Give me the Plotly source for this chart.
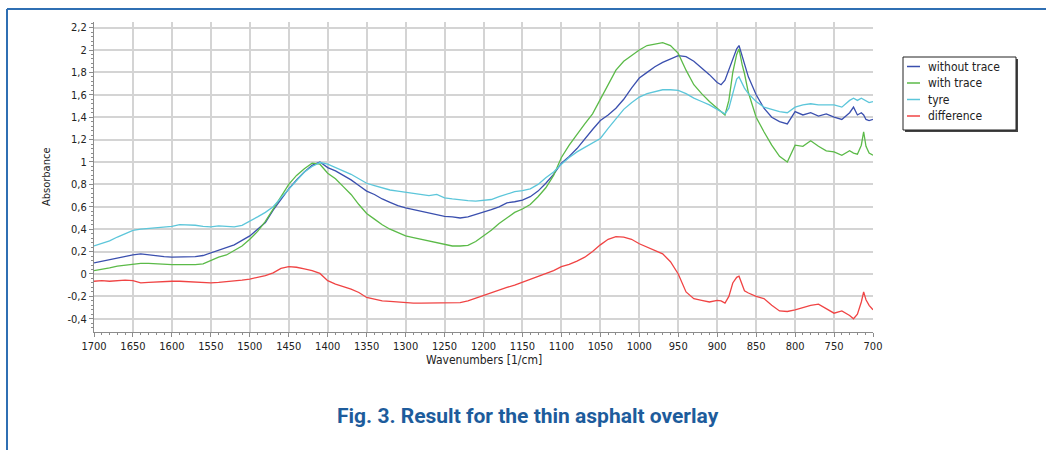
import plotly.graph_objects as go

# ---------------- data ----------------
wavenumbers = [
    1700, 1690, 1680, 1670, 1660, 1650, 1640, 1630, 1620, 1610,
    1600, 1590, 1580, 1570, 1560, 1550, 1540, 1530, 1520, 1510,
    1500, 1490, 1480, 1470, 1460, 1450, 1440, 1430, 1420, 1410,
    1400, 1390, 1380, 1370, 1360, 1350, 1340, 1330, 1320, 1310,
    1300, 1290, 1280, 1270, 1260, 1250, 1240, 1230, 1220, 1210,
    1200, 1190, 1180, 1170, 1160, 1150, 1140, 1130, 1120, 1110,
    1100, 1090, 1080, 1070, 1060, 1050, 1040, 1030, 1020, 1010,
    1000, 990, 980, 970, 960, 950, 940, 930, 920, 910,
    900, 895, 890, 885, 880, 875, 872, 868, 865, 860,
    850, 840, 830, 820, 810, 800, 790, 780, 770, 760,
    750, 740, 730, 725, 720, 715, 712, 709, 705, 700,
]

without_trace = [
    0.10, 0.115, 0.13, 0.14, 0.16, 0.17, 0.18, 0.17, 0.165, 0.155,
    0.15, 0.15, 0.15, 0.155, 0.165, 0.19, 0.21, 0.235, 0.26, 0.30,
    0.34, 0.40, 0.46, 0.57, 0.67, 0.76, 0.84, 0.91, 0.97, 1.00,
    0.95, 0.92, 0.88, 0.84, 0.79, 0.74, 0.71, 0.67, 0.64, 0.61,
    0.59, 0.575, 0.56, 0.54, 0.53, 0.515, 0.51, 0.50, 0.51, 0.53,
    0.555, 0.575, 0.60, 0.635, 0.645, 0.66, 0.69, 0.74, 0.81, 0.89,
    0.99, 1.05, 1.12, 1.21, 1.29, 1.37, 1.42, 1.48, 1.56, 1.66,
    1.75, 1.80, 1.85, 1.89, 1.92, 1.95, 1.94, 1.90, 1.84, 1.78,
    1.71, 1.69, 1.73, 1.82, 1.92, 2.01, 2.04, 1.95, 1.89, 1.76,
    1.60, 1.48, 1.40, 1.36, 1.34, 1.45, 1.42, 1.44, 1.41, 1.43,
    1.40, 1.38, 1.44, 1.49, 1.42, 1.44, 1.42, 1.38, 1.37, 1.38,
]

with_trace = [
    0.03, 0.04, 0.055, 0.07, 0.08, 0.09, 0.095, 0.095, 0.09, 0.085,
    0.083, 0.083, 0.083, 0.083, 0.09, 0.12, 0.15, 0.17, 0.21, 0.25,
    0.31, 0.38, 0.47, 0.58, 0.70, 0.80, 0.88, 0.94, 0.99, 0.98,
    0.90, 0.85, 0.78, 0.71, 0.62, 0.54, 0.49, 0.44, 0.40, 0.37,
    0.34, 0.325, 0.31, 0.295, 0.28, 0.26, 0.25, 0.25, 0.255, 0.29,
    0.34, 0.39, 0.45, 0.50, 0.55, 0.58, 0.62, 0.69, 0.77, 0.88,
    1.04, 1.15, 1.25, 1.34, 1.43, 1.56, 1.70, 1.82, 1.90, 1.95,
    2.00, 2.04, 2.055, 2.065, 2.04, 1.97, 1.82, 1.69, 1.61, 1.54,
    1.48, 1.45, 1.42, 1.55, 1.80, 1.96, 2.01, 1.87, 1.79, 1.62,
    1.40, 1.27, 1.15, 1.05, 1.00, 1.15, 1.14, 1.19, 1.14, 1.10,
    1.09, 1.06, 1.10, 1.08, 1.07, 1.15, 1.27, 1.14, 1.08, 1.06,
]

tyre = [
    0.25, 0.27, 0.295, 0.33, 0.36, 0.39, 0.40, 0.405, 0.41, 0.415,
    0.425, 0.44, 0.44, 0.435, 0.425, 0.42, 0.43, 0.425, 0.42, 0.435,
    0.47, 0.51, 0.55, 0.60, 0.68, 0.76, 0.84, 0.91, 0.96, 0.995,
    0.98, 0.95, 0.92, 0.89, 0.85, 0.81, 0.79, 0.77, 0.75, 0.74,
    0.73, 0.72, 0.705, 0.70, 0.71, 0.68, 0.67, 0.66, 0.655, 0.65,
    0.655, 0.665, 0.69, 0.715, 0.735, 0.745, 0.76, 0.80, 0.86, 0.91,
    0.98, 1.04, 1.09, 1.13, 1.17, 1.21, 1.30, 1.39, 1.47, 1.53,
    1.58, 1.61, 1.63, 1.645, 1.645, 1.64, 1.61, 1.57, 1.54, 1.51,
    1.47, 1.45, 1.43, 1.48, 1.62, 1.74, 1.76, 1.70, 1.66, 1.61,
    1.54, 1.49, 1.47, 1.45, 1.44, 1.49, 1.51, 1.52, 1.51, 1.51,
    1.51, 1.49, 1.55, 1.57, 1.55, 1.57, 1.56, 1.55, 1.53, 1.54,
]

difference = [
    -0.065, -0.06, -0.065, -0.06, -0.055, -0.06, -0.08, -0.075, -0.07, -0.065,
    -0.065, -0.065, -0.07, -0.07, -0.075, -0.08, -0.075, -0.07, -0.065, -0.055,
    -0.045, -0.03, -0.015, 0.01, 0.05, 0.065, 0.06, 0.045, 0.03, 0.005,
    -0.06, -0.09, -0.11, -0.135, -0.165, -0.21, -0.225, -0.24, -0.245, -0.25,
    -0.26, -0.26, -0.26, -0.26, -0.26, -0.26, -0.255, -0.255, -0.24, -0.215,
    -0.19, -0.17, -0.14, -0.12, -0.10, -0.075, -0.05, -0.025, 0.0, 0.03,
    0.065, 0.085, 0.115, 0.15, 0.20, 0.26, 0.31, 0.333, 0.33, 0.31,
    0.27, 0.24, 0.21, 0.18, 0.11, 0.00, -0.16, -0.22, -0.235, -0.25,
    -0.235, -0.24, -0.26, -0.20, -0.08, -0.03, -0.02, -0.10, -0.15, -0.17,
    -0.20, -0.22, -0.28, -0.33, -0.335, -0.32, -0.30, -0.28, -0.27, -0.31,
    -0.35, -0.33, -0.37, -0.40, -0.36, -0.25, -0.16, -0.23, -0.28, -0.32,
]

series_names = ["without trace", "with trace", "tyre", "difference"]
series_colors = ["#3a4fae", "#5bba48", "#5cc6da", "#f04444"]

x_tick_vals = [1700, 1650, 1600, 1550, 1500, 1450, 1400, 1350, 1300, 1250, 1200,
               1150, 1100, 1050, 1000, 950, 900, 850, 800, 750, 700]
x_tick_text = [str(v) for v in x_tick_vals]
y_tick_vals = [-0.4, -0.2, 0, 0.2, 0.4, 0.6, 0.8, 1.0, 1.2, 1.4, 1.6, 1.8, 2.0, 2.2]
y_tick_text = ["-0,4", "-0,2", "0", "0,2", "0,4", "0,6", "0,8", "1", "1,2", "1,4",
               "1,6", "1,8", "2", "2,2"]

caption = "Fig. 3. Result for the thin asphalt overlay"

# ---------------- figure ----------------
W, H = 1046, 450
L, R, T, B = 94, 173, 22, 118
pw, ph = W - L - R, H - T - B


def px(xp):
    return (xp - L) / pw


def py(yp):
    return (H - B - yp) / ph


FONT = "DejaVu Sans Condensed, DejaVu Sans, Verdana, sans-serif"

fig = go.Figure()
all_series = [without_trace, with_trace, tyre, difference]
for name, vals, col in zip(series_names, all_series, series_colors):
    fig.add_trace(go.Scatter(x=wavenumbers, y=vals, mode="lines", name=name,
                             line=dict(color=col, width=1.3), showlegend=False))

shapes = []
annotations = []

# outer blue frame (top and left edges)
frame_col = "#2f6fb3"
shapes.append(dict(type="line", xref="paper", yref="paper", x0=px(7), x1=px(W + 5),
                   y0=py(9), y1=py(9), line=dict(color=frame_col, width=2)))
shapes.append(dict(type="line", xref="paper", yref="paper", x0=px(7), x1=px(7),
                   y0=py(9), y1=py(H + 5), line=dict(color=frame_col, width=2)))

# custom legend box with shadow
shapes.append(dict(type="rect", xref="paper", yref="paper", x0=px(905), x1=px(1018),
                   y0=py(59), y1=py(132), fillcolor="#444444", line=dict(width=0)))
shapes.append(dict(type="rect", xref="paper", yref="paper", x0=px(903), x1=px(1016),
                   y0=py(57), y1=py(130), fillcolor="white",
                   line=dict(color="#222222", width=1)))
row_y = [66.5, 83, 99.5, 116]
for name, col, ry in zip(series_names, series_colors, row_y):
    shapes.append(dict(type="line", xref="paper", yref="paper", x0=px(907), x1=px(920),
                       y0=py(ry), y1=py(ry), line=dict(color=col, width=1.5)))
    annotations.append(dict(xref="paper", yref="paper", x=px(926), y=py(ry), text=name,
                            showarrow=False, xanchor="left", yanchor="middle",
                            font=dict(family=FONT, size=12, color="#222222")))

# axis titles
annotations.append(dict(xref="paper", yref="paper", x=0.5, y=py(360),
                        text="Wavenumbers [1/cm]", showarrow=False,
                        xanchor="center", yanchor="middle",
                        font=dict(family=FONT, size=12, color="#222222")))
annotations.append(dict(xref="paper", yref="paper", x=px(46), y=0.5,
                        text="Absorbance", showarrow=False, textangle=-90,
                        xanchor="center", yanchor="middle",
                        font=dict(family=FONT, size=11, color="#222222")))
# caption
annotations.append(dict(xref="paper", yref="paper", x=px(528), y=py(416),
                        text="<b>" + caption + "</b>", showarrow=False,
                        xanchor="center", yanchor="middle",
                        font=dict(family="Roboto, sans-serif", size=21, color="#1d5c9c")))

grid_col = "#d4d4d4"
axis_col = "#8c8c8c"

fig.update_layout(
    width=W, height=H,
    margin=dict(l=L, r=R, t=T, b=B, pad=0),
    paper_bgcolor="white", plot_bgcolor="white",
    shapes=shapes, annotations=annotations,
    showlegend=False,
    xaxis=dict(range=[1700, 700], tickmode="array", tickvals=x_tick_vals,
               ticktext=x_tick_text, ticks="outside", ticklen=4, tickcolor=axis_col,
               showline=True, linecolor=axis_col, linewidth=1,
               showgrid=True, gridcolor=grid_col, gridwidth=1.5, zeroline=False,
               tickfont=dict(family=FONT, size=11, color="#222222"),
               minor=dict(tickmode="linear", tick0=700, dtick=10, ticks="outside",
                          ticklen=2, tickcolor=axis_col, showgrid=False)),
    yaxis=dict(range=[-0.518, 2.25], tickmode="array", tickvals=y_tick_vals,
               ticktext=y_tick_text, ticks="outside", ticklen=4, tickcolor=axis_col,
               showline=True, linecolor=axis_col, linewidth=1,
               showgrid=True, gridcolor=grid_col, gridwidth=1.5, zeroline=False,
               tickfont=dict(family=FONT, size=11, color="#222222"),
               minor=dict(tickmode="linear", tick0=0, dtick=0.04, ticks="outside",
                          ticklen=2, tickcolor=axis_col, showgrid=False)),
)

fig.write_html("out.html")
